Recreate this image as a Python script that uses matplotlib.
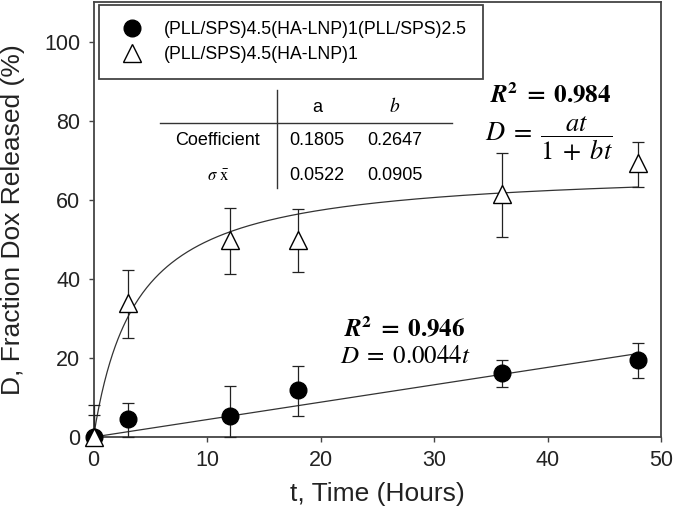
import numpy as np
import matplotlib
matplotlib.use("Agg")
import matplotlib.pyplot as plt
from matplotlib.lines import Line2D

plt.rcParams['font.family'] = ['Liberation Sans', 'DejaVu Sans']
plt.rcParams['mathtext.fontset'] = 'stix'

# ---- data ----
t = [0, 3, 12, 18, 36, 48]
circ = [0, 4.5, 5.2, 11.8, 16.1, 19.4]
circ_lo = [0, 4.5, 5.2, 6.5, 3.5, 4.5]
circ_hi = [5.5, 4.0, 7.6, 6.2, 3.3, 4.3]
tri = [0, 34.0, 49.8, 49.8, 61.5, 69.4]
tri_lo = [0, 8.9, 8.7, 8.0, 11.0, 6.2]
tri_hi = [8.0, 8.3, 8.0, 7.8, 10.4, 5.2]
label_circ = "(PLL/SPS)4.5(HA-LNP)1(PLL/SPS)2.5"
label_tri = "(PLL/SPS)4.5(HA-LNP)1"
coef_a, coef_b = 0.1805, 0.2647
sig_a, sig_b = 0.0522, 0.0905
lin_slope = 0.0044
r2_lin, r2_hyp = 0.946, 0.984
xticks = [0, 10, 20, 30, 40, 50]
yticks = [0, 20, 40, 60, 80, 100]

W, H = 675, 523
fig = plt.figure(figsize=(W / 100, H / 100), dpi=100)

def fx(x):
    return x / W

def fy(y):
    return 1 - y / H

ax = fig.add_axes([fx(93.5), fy(437), fx(661) - fx(93.5), fy(2) - fy(437)])
ax.set_xlim(0, 50)
ax.set_ylim(0, 110)

# fits
tf = np.linspace(0, 48, 400)
ax.plot(tf, 100 * coef_a * tf / (1 + coef_b * tf), color='#333333', lw=0.9, zorder=2)
ax.plot(tf, 100 * lin_slope * tf, color='#333333', lw=0.9, zorder=2)

# error bars
ax.errorbar(t, tri, yerr=[tri_lo, tri_hi], fmt='none', ecolor='#222222',
            elinewidth=0.9, capsize=4.5, capthick=0.9, zorder=3, clip_on=False)
ax.errorbar(t, circ, yerr=[circ_lo, circ_hi], fmt='none', ecolor='#222222',
            elinewidth=0.9, capsize=4.5, capthick=0.9, zorder=3, clip_on=False)

# markers
ax.plot(t, circ, 'o', ms=12, mfc='black', mec='black', ls='none',
        label=label_circ, zorder=4, clip_on=False)
ax.plot(t, tri, '^', ms=13, mfc='white', mec='black', mew=1.0, ls='none',
        label=label_tri, zorder=5, clip_on=False)

for s in ax.spines.values():
    s.set_color('#444444')
    s.set_linewidth(1.3)
ax.set_xticks(xticks)
ax.set_yticks(yticks)
ax.tick_params(direction='out', length=3.5, width=1.0, color='#444444',
               labelsize=15.5, pad=6, labelcolor='#222222')
ax.set_xlabel('t, Time (Hours)', fontsize=19, labelpad=8, color='#222222')
ax.set_ylabel('D, Fraction Dox Released (%)', fontsize=19, labelpad=14, color='#222222')

leg = ax.legend(loc='upper left', bbox_to_anchor=(fx(99), fy(5)),
                bbox_transform=fig.transFigure, borderaxespad=0,
                fontsize=12.7, frameon=True, fancybox=False, framealpha=1,
                edgecolor='#444444', handlelength=1.9, handletextpad=0.9,
                labelspacing=0.45, borderpad=0.9)
leg.get_frame().set_linewidth(1.3)

# table
fig.add_artist(Line2D([fx(160), fx(452)], [fy(123), fy(123)], color='#333333', lw=1.0))
fig.add_artist(Line2D([fx(277), fx(277)], [fy(90), fy(188)], color='#333333', lw=1.0))
tfs = 13
fig.text(fx(317), fy(107), 'a', fontsize=tfs, ha='center', va='center')
fig.text(fx(395), fy(106), r'$b$', fontsize=tfs + 1, ha='center', va='center')
fig.text(fx(218), fy(140), 'Coefficient', fontsize=tfs, ha='center', va='center')
fig.text(fx(317), fy(140), f'{coef_a:.4f}', fontsize=tfs, ha='center', va='center')
fig.text(fx(395), fy(140), f'{coef_b:.4f}', fontsize=tfs, ha='center', va='center')
fig.text(fx(218), fy(176), r'$\sigma\ \bar{\mathrm{x}}$', fontsize=tfs - 1, ha='center', va='center')
fig.text(fx(317), fy(175), f'{sig_a:.4f}', fontsize=tfs, ha='center', va='center')
fig.text(fx(395), fy(175), f'{sig_b:.4f}', fontsize=tfs, ha='center', va='center')

# equations
efs = 18
fig.text(fx(405), fy(330), r'$\boldsymbol{R}^{\mathbf{2}}\;\mathbf{=}\;\mathbf{%.3f}$' % r2_lin,
         fontsize=efs, ha='center', va='center')
fig.text(fx(405), fy(356), r'$D\;=\;%.4f t$' % lin_slope, fontsize=efs, ha='center', va='center')
fig.text(fx(551), fy(96), r'$\boldsymbol{R}^{\mathbf{2}}\;\mathbf{=}\;\mathbf{%.3f}$' % r2_hyp,
         fontsize=efs, ha='center', va='center')
fig.text(fx(549), fy(139), r'$D\;=\;\dfrac{at}{1\;+\;bt}$', fontsize=efs + 1, ha='center', va='center')

fig.savefig('out.png', dpi=100)
